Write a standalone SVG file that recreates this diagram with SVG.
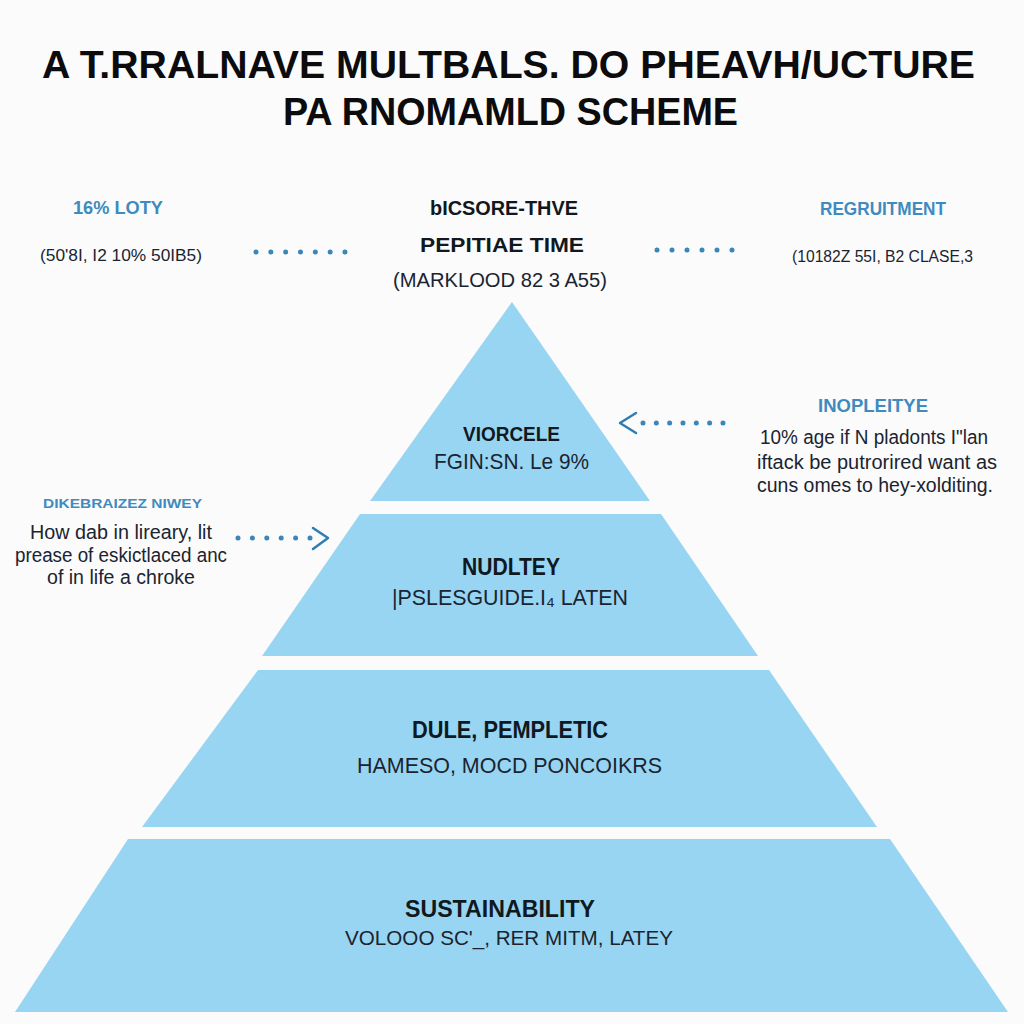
<svg xmlns="http://www.w3.org/2000/svg" width="1024" height="1024" viewBox="0 0 1024 1024">
<style>
.bg{fill:#fbfbfb}
.tier{fill:#98d5f2}
.title{font-family:"Liberation Sans",Arial,sans-serif;font-weight:bold;font-size:39px;fill:#0c0c0e}
.hd{font-family:"Liberation Sans",Arial,sans-serif;font-weight:bold;fill:#101820}
.bhd{font-family:"Liberation Sans",Arial,sans-serif;font-weight:bold;fill:#3f8bbf}
.tx{font-family:"Liberation Sans",Arial,sans-serif;fill:#1a2430}
.dots{stroke:#3a86b8;stroke-width:5;stroke-linecap:round;fill:none}
.chev{stroke:#2f7db3;stroke-width:2.5;fill:none;stroke-linecap:round;stroke-linejoin:round}
</style>
<rect class="bg" x="0" y="0" width="1024" height="1024"/>
<g id="title">
<text class="title" x="42" y="78" textLength="933" lengthAdjust="spacingAndGlyphs">A T.RRALNAVE MULTBALS. DO PHEAVH/UCTURE</text>
<text class="title" x="283" y="125" textLength="455" lengthAdjust="spacingAndGlyphs">PA RNOMAMLD SCHEME</text>
</g>
<g id="top-left">
<text class="bhd" x="118" y="214" font-size="19" text-anchor="middle" textLength="90" lengthAdjust="spacingAndGlyphs">16% LOTY</text>
<text class="tx" x="40" y="261" font-size="16" textLength="162" lengthAdjust="spacingAndGlyphs">(50'8I, I2 10% 50IB5)</text>
</g>
<g id="top-center">
<text class="hd" x="430" y="215" font-size="20" textLength="148" lengthAdjust="spacingAndGlyphs">bICSORE-THVE</text>
<text class="hd" x="420" y="252" font-size="20" textLength="164" lengthAdjust="spacingAndGlyphs">PEPITIAE TIME</text>
<text class="tx" x="393" y="287" font-size="20" textLength="214" lengthAdjust="spacingAndGlyphs">(MARKLOOD 82 3 A55)</text>
</g>
<g id="top-right">
<text class="bhd" x="820" y="215" font-size="19" textLength="126" lengthAdjust="spacingAndGlyphs">REGRUITMENT</text>
<text class="tx" x="792" y="262" font-size="16" textLength="181" lengthAdjust="spacingAndGlyphs">(10182Z 55I, B2 CLASE,3</text>
</g>
<g id="tier-1">
<polygon class="tier" points="512,302 650,501 370,501"/>
<text class="hd" x="463" y="441" font-size="21" textLength="97" lengthAdjust="spacingAndGlyphs">VIORCELE</text>
<text class="tx" x="434" y="469" font-size="22" textLength="155" lengthAdjust="spacingAndGlyphs">FGIN:SN. Le 9%</text>
</g>
<g id="tier-2">
<polygon class="tier" points="360,514 661,514 758,656 262,656"/>
<text class="hd" x="462" y="575" font-size="23" textLength="98" lengthAdjust="spacingAndGlyphs">NUDLTEY</text>
<text class="tx" x="392" y="605" font-size="22" textLength="236" lengthAdjust="spacingAndGlyphs">|PSLESGUIDE.I₄ LATEN</text>
</g>
<g id="tier-3">
<polygon class="tier" points="258,670 769,670 877,827 142,827"/>
<text class="hd" x="412" y="738" font-size="23" textLength="196" lengthAdjust="spacingAndGlyphs">DULE, PEMPLETIC</text>
<text class="tx" x="357" y="773" font-size="22" textLength="305" lengthAdjust="spacingAndGlyphs">HAMESO, MOCD PONCOIKRS</text>
</g>
<g id="tier-4">
<polygon class="tier" points="128,839 890,839 1008,1012 15,1012"/>
<text class="hd" x="405" y="917" font-size="23" textLength="190" lengthAdjust="spacingAndGlyphs">SUSTAINABILITY</text>
<text class="tx" x="345" y="945" font-size="21" textLength="328" lengthAdjust="spacingAndGlyphs">VOLOOO SC'_, RER MITM, LATEY</text>
</g>
<g id="note-right">
<text class="bhd" x="818" y="412" font-size="18" textLength="110" lengthAdjust="spacingAndGlyphs">INOPLEITYE</text>
<text class="tx" x="760" y="444" font-size="20" textLength="228" lengthAdjust="spacingAndGlyphs">10% age if N pladonts I"lan</text>
<text class="tx" x="757" y="469" font-size="20" textLength="240" lengthAdjust="spacingAndGlyphs">iftack be putrorired want as</text>
<text class="tx" x="757" y="492" font-size="20" textLength="236" lengthAdjust="spacingAndGlyphs">cuns omes to hey-xolditing.</text>
</g>
<g id="note-left">
<text class="bhd" x="43" y="508" font-size="13" textLength="159" lengthAdjust="spacingAndGlyphs">DIKEBRAIZEZ NIWEY</text>
<text class="tx" x="30" y="539" font-size="20" textLength="182" lengthAdjust="spacingAndGlyphs">How dab in lireary, lit</text>
<text class="tx" x="15" y="562" font-size="20" textLength="212" lengthAdjust="spacingAndGlyphs">prease of eskictlaced anc</text>
<text class="tx" x="47" y="584" font-size="20" textLength="148" lengthAdjust="spacingAndGlyphs">of in life a chroke</text>
</g>
<g id="connectors">
<line class="dots" x1="256" y1="252" x2="345" y2="252" stroke-dasharray="0 14.83"/>
<line class="dots" x1="657" y1="250" x2="747" y2="250" stroke-dasharray="0 15"/>
<line class="dots" x1="643" y1="423" x2="723" y2="423" stroke-dasharray="0 13.33"/>
<polyline class="chev" points="636,413 620,423 636,433"/>
<line class="dots" x1="238" y1="538" x2="310" y2="538" stroke-dasharray="0 14.4"/>
<polyline class="chev" points="313,528 328,538 313,549"/>
</g>
</svg>
